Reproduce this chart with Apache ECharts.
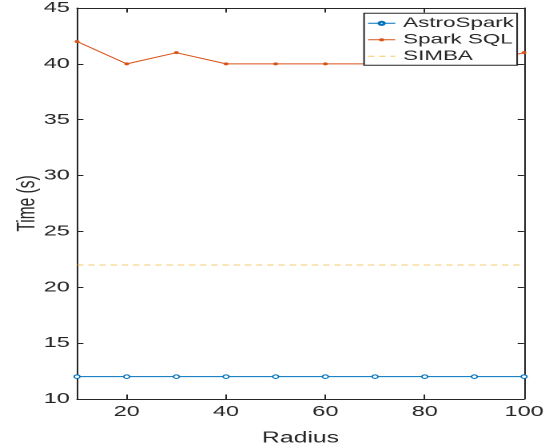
<!DOCTYPE html>
<html><head><meta charset="utf-8">
<script src="https://cdn.jsdelivr.net/npm/echarts@6/dist/echarts.min.js"></script>
<style>
html,body{margin:0;padding:0;overflow:hidden;background:#fff}
#wrap{width:545px;height:447px;overflow:hidden;position:relative}
#c{width:341px;height:447px;transform:scaleX(1.5982);transform-origin:0 0}
</style></head><body>
<div id="wrap"><div id="c"></div></div>
<script>
const radius = [10, 20, 30, 40, 50, 60, 70, 80, 90, 100];
const astroSpark = [12, 12, 12, 12, 12, 12, 12, 12, 12, 12];
const sparkSQL = [42, 40, 41, 40, 40, 40, 40, 40, 40, 41];
const simba = [22, 22, 22, 22, 22, 22, 22, 22, 22, 22];
const xTickLabels = [20, 40, 60, 80, 100];
const seriesNames = ['AstroSpark', 'Spark SQL', 'SIMBA'];

const FONT = '"Liberation Sans", Helvetica, Arial, sans-serif';
const INK = '#262626';
const pairs = (ys) => radius.map((x, i) => [x, ys[i]]);

const chart = echarts.init(document.getElementById('c'), null, {renderer: 'canvas', devicePixelRatio: 2});

const baseX = {
  type: 'value', min: 10, max: 100,
  axisLine: {show: true, onZero: false, lineStyle: {color: INK, width: 1}},
  splitLine: {show: false}
};
const baseY = {
  type: 'value', min: 10, max: 45, interval: 5,
  axisLine: {show: true, onZero: false, lineStyle: {color: INK, width: 1}},
  splitLine: {show: false}
};

chart.setOption({
  animation: false,
  backgroundColor: '#fff',
  grid: {left: 48.2, right: 13.1, top: 8, bottom: 48, containLabel: false, outerBoundsMode: 'none'},
  xAxis: [
    Object.assign({}, baseX, {
      position: 'bottom',
      name: 'Radius', nameLocation: 'middle', nameGap: 31, nameMoveOverlap: false,
      nameTextStyle: {fontFamily: FONT, fontSize: 15.5, color: INK},
      axisTick: {show: true, inside: true, length: 4.5, lineStyle: {color: INK}, customValues: xTickLabels},
      axisLabel: {show: true, margin: 5.5, fontFamily: FONT, fontSize: 14.7, color: INK, customValues: xTickLabels}
    }),
    Object.assign({}, baseX, {
      position: 'top',
      axisTick: {show: true, inside: true, length: 4.5, lineStyle: {color: INK}, customValues: xTickLabels},
      axisLabel: {show: false}
    })
  ],
  yAxis: [
    Object.assign({}, baseY, {
      position: 'left',
      name: 'Time (s)', nameLocation: 'middle', nameGap: 23, nameMoveOverlap: false,
      nameTextStyle: {fontFamily: FONT, fontSize: 15.5, color: INK},
      axisTick: {show: true, inside: true, length: 4, lineStyle: {color: INK}},
      axisLabel: {show: true, margin: 4.5, fontFamily: FONT, fontSize: 14.7, color: INK}
    }),
    Object.assign({}, baseY, {
      position: 'right',
      axisTick: {show: true, inside: true, length: 4, lineStyle: {color: INK}},
      axisLabel: {show: false}
    })
  ],
  legend: {
    data: [
      {name: seriesNames[0]},
      {name: seriesNames[1]},
      {name: seriesNames[2], itemStyle: {opacity: 0}}
    ],
    orient: 'vertical',
    left: 227.8, top: 13.3,
    padding: [3, 2, 2, 2],
    itemGap: 2.5,
    itemWidth: 17, itemHeight: 4,
    lineStyle: {width: 1},
    backgroundColor: '#fff',
    borderColor: INK, borderWidth: 1, borderRadius: 0,
    textStyle: {fontFamily: FONT, fontSize: 14, color: INK},
    z: 10
  },
  series: [
    {
      name: seriesNames[0], type: 'line', xAxisIndex: 0, yAxisIndex: 0,
      data: pairs(astroSpark),
      symbol: 'circle', symbolSize: 3.6, showSymbol: true,
      lineStyle: {color: '#0072BD', width: 1},
      itemStyle: {color: '#ffffff', borderColor: '#0072BD', borderWidth: 1},
      z: 3
    },
    {
      name: seriesNames[1], type: 'line', xAxisIndex: 0, yAxisIndex: 0,
      data: pairs(sparkSQL),
      symbol: 'circle', symbolSize: 3, showSymbol: true,
      lineStyle: {color: '#D95319', width: 1},
      itemStyle: {color: '#D95319', borderWidth: 0},
      z: 3
    },
    {
      name: seriesNames[2], type: 'line', xAxisIndex: 0, yAxisIndex: 0,
      data: pairs(simba),
      symbol: 'none', showSymbol: false,
      lineStyle: {color: '#EDB120', width: 1, type: [4, 3], opacity: 0.65},
      itemStyle: {color: '#EDB120'},
      z: 2
    }
  ]
});
</script>
</body></html>
